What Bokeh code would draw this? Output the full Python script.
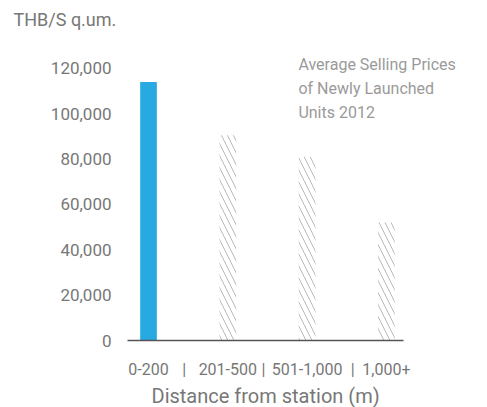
from bokeh.plotting import figure
from bokeh.models import Range1d, FixedTicker, NumeralTickFormatter, Label, ColumnDataSource, Title
from bokeh.embed import file_html
from bokeh.resources import INLINE

categories = ["0-200", "201-500", "501-1,000", "1,000+"]
prices = [114000, 90500, 81000, 52000]
y_ticks = [0, 20000, 40000, 60000, 80000, 100000, 120000]
unit_label = "THB/S q.um."
x_title = "Distance from station (m)"
note = "Average Selling Prices\nof Newly Launched\nUnits 2012"

idx = list(range(len(categories)))
FONT = "Roboto"
GRAY = "#777777"

x0, x_axis_end, x1 = -0.265, 3.215, 4.186

p = figure(width=487, height=407, output_backend="svg", toolbar_location=None,
           x_range=Range1d(x0, x1), y_range=Range1d(0, 137100),
           min_border_left=127, min_border_right=7, min_border_top=29, min_border_bottom=66)
p.outline_line_color = None
p.grid.visible = False
p.background_fill_color = None

solid = ColumnDataSource(dict(x=idx[:1], top=prices[:1]))
hatched = ColumnDataSource(dict(x=idx[1:], top=prices[1:]))
p.vbar(x="x", top="top", width=0.21, source=solid, fill_color="#27a9e1", line_color=None)
p.vbar(x="x", top="top", width=0.21, source=hatched, fill_color=None, line_color=None,
       hatch_pattern="\\", hatch_color="#a8a8a8", hatch_scale=12, hatch_weight=0.9, hatch_alpha=0.9)

# y axis
p.yaxis.ticker = FixedTicker(ticks=y_ticks)
p.yaxis.formatter = NumeralTickFormatter(format="0,0")
p.yaxis.axis_line_color = None
p.yaxis.major_tick_line_color = None
p.yaxis.minor_tick_line_color = None
p.yaxis.major_label_text_font = FONT
p.yaxis.major_label_text_font_size = "17px"
p.yaxis.major_label_text_color = GRAY
p.yaxis.major_label_standoff = 10

# x axis with separators placed between neighbouring labels (shifted by label length)
seps = [i + 0.5 + (len(categories[i]) - len(categories[i + 1])) * 0.0246 for i in idx[:-1]]
ticks = sorted(idx + seps)
overrides = {i: c for i, c in zip(idx, categories)}
overrides.update({s: "|" for s in seps})
p.xaxis.ticker = FixedTicker(ticks=ticks)
p.xaxis.major_label_overrides = overrides
p.xaxis.bounds = (x0, x_axis_end)
p.xaxis.axis_line_color = "#555555"
p.xaxis.axis_line_width = 1.5
p.xaxis.major_tick_line_color = None
p.xaxis.minor_tick_line_color = None
p.xaxis.major_label_text_font = FONT
p.xaxis.major_label_text_font_size = "16px"
p.xaxis.major_label_text_color = GRAY
p.xaxis.major_label_standoff = 13

p.add_layout(Title(text=x_title, text_font=FONT, text_font_size="20px", text_font_style="normal",
                   text_color=GRAY, align="left", offset=24, standoff=0), "below")

p.title.text = unit_label
p.title.text_font = FONT
p.title.text_font_size = "18px"
p.title.text_font_style = "normal"
p.title.text_color = GRAY
p.title.align = "left"
p.title.offset = -114
p.title.standoff = 0

p.add_layout(Label(x=1.89, y=127000, text=note, text_font=FONT, text_font_size="16px",
                   text_color="#9a9a9a", text_baseline="top", text_align="left",
                   text_line_height=1.24, y_offset=-3))

open("out.html", "w").write(file_html(p, INLINE))
